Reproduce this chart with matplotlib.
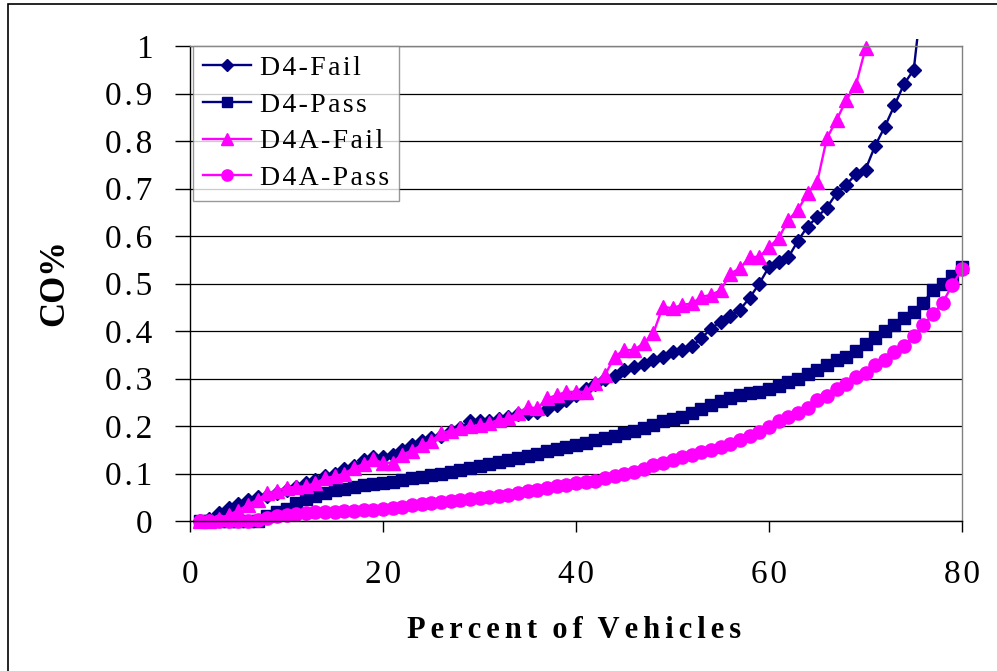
import numpy as np
import matplotlib
matplotlib.use("Agg")
import matplotlib.pyplot as plt
from matplotlib.patches import Rectangle

plt.rcParams['font.family'] = ['Liberation Serif', 'DejaVu Serif']

HS = '\u200a'  # hair space, mimics the wide letter spacing


def spaced(s, n=1):
    return (HS * n).join(s)


# %% data (x = percent of vehicles, y = CO%)
d4_fail = [0.0, 0.005, 0.016, 0.027, 0.035, 0.045, 0.05, 0.052, 0.06, 0.065,
           0.072, 0.08, 0.086, 0.095, 0.10, 0.11, 0.115, 0.128, 0.135, 0.135,
           0.14, 0.15, 0.16, 0.168, 0.175, 0.18, 0.19, 0.195, 0.21, 0.21,
           0.21, 0.215, 0.22, 0.225, 0.228, 0.23, 0.235, 0.245, 0.255, 0.265,
           0.278, 0.288, 0.30, 0.305, 0.318, 0.325, 0.33, 0.34, 0.346, 0.355,
           0.36, 0.368, 0.385, 0.405, 0.42, 0.432, 0.445, 0.47, 0.50, 0.535,
           0.545, 0.555, 0.59, 0.62, 0.64, 0.66, 0.69, 0.708, 0.73, 0.74,
           0.79, 0.83, 0.875, 0.92, 0.95, 1.13]

d4_pass = [0, 0, 0, 0, 0, 0, 0, 0.01, 0.018, 0.025,
           0.038, 0.047, 0.053, 0.06, 0.065, 0.068, 0.072, 0.075, 0.078, 0.08,
           0.083, 0.087, 0.09, 0.092, 0.096, 0.1, 0.104, 0.108, 0.112, 0.116,
           0.12, 0.124, 0.128, 0.132, 0.137, 0.142, 0.147, 0.151, 0.156, 0.16,
           0.165, 0.17, 0.175, 0.18, 0.185, 0.19, 0.195, 0.203, 0.21, 0.215,
           0.22, 0.227, 0.235, 0.245, 0.252, 0.26, 0.265, 0.27, 0.272, 0.278,
           0.285, 0.292, 0.30, 0.31, 0.318, 0.328, 0.338, 0.346, 0.358, 0.372,
           0.385, 0.40, 0.413, 0.428, 0.44, 0.46, 0.487, 0.50, 0.515, 0.535]

d4a_fail = [0, 0, 0.005, 0.013, 0.022, 0.034, 0.045, 0.058, 0.064, 0.07,
            0.072, 0.073, 0.08, 0.09, 0.094, 0.10, 0.112, 0.12, 0.13, 0.122,
            0.123, 0.14, 0.148, 0.16, 0.168, 0.185, 0.19, 0.195, 0.199, 0.202,
            0.206, 0.213, 0.216, 0.228, 0.24, 0.237, 0.258, 0.265, 0.272, 0.272,
            0.272, 0.29, 0.307, 0.346, 0.36, 0.36, 0.374, 0.395, 0.451, 0.448,
            0.455, 0.458, 0.472, 0.476, 0.486, 0.521, 0.532, 0.556, 0.556, 0.577,
            0.595, 0.634, 0.655, 0.69, 0.714, 0.806, 0.844, 0.886, 0.918, 0.995]

d4a_pass = [0, 0, 0, 0, 0, 0, 0.003, 0.006, 0.01, 0.012,
            0.014, 0.016, 0.018, 0.02, 0.02, 0.022, 0.022, 0.023, 0.024, 0.025,
            0.028, 0.03, 0.033, 0.036, 0.038, 0.04, 0.042, 0.044, 0.046, 0.048,
            0.05, 0.052, 0.055, 0.06, 0.063, 0.066, 0.07, 0.073, 0.076, 0.079,
            0.082, 0.085, 0.09, 0.095, 0.10, 0.104, 0.11, 0.117, 0.123, 0.128,
            0.134, 0.14, 0.145, 0.15, 0.155, 0.162, 0.17, 0.18, 0.188, 0.197,
            0.21, 0.22, 0.228, 0.238, 0.255, 0.263, 0.278, 0.288, 0.303, 0.312,
            0.328, 0.34, 0.355, 0.368, 0.39, 0.413, 0.435, 0.46, 0.497, 0.53]

series = [
    ("D4-Fail", d4_fail, '#000080', 'D', 7.5),
    ("D4-Pass", d4_pass, '#000080', 's', 9),
    ("D4A-Fail", d4a_fail, '#FF00FF', '^', 10.5),
    ("D4A-Pass", d4a_pass, '#FF00FF', 'o', 9.5),
]

x_ticks = [0, 20, 40, 60, 80]
y_ticks = [0, 0.1, 0.2, 0.3, 0.4, 0.5, 0.6, 0.7, 0.8, 0.9, 1]
y_tick_labels = ['0', '0.1', '0.2', '0.3', '0.4', '0.5', '0.6', '0.7', '0.8', '0.9', '1']

# %% figure
W, H = 997, 671
fig = plt.figure(figsize=(W / 100, H / 100), dpi=100)
ax = fig.add_axes([190 / W, 1 - 521 / H, (962 - 190) / W, (521 - 46) / H])

# clip a little outside the plot area so edge markers are not cut in half
clip = Rectangle((-0.02, -0.03), 1.04, 1.045, transform=ax.transAxes,
                 facecolor='none', edgecolor='none')
ax.add_patch(clip)

for name, vals, col, mk, ms in series:
    xs = np.arange(1, len(vals) + 1)
    ln, = ax.plot(xs, vals, color=col, lw=1.7, marker=mk, ms=ms,
                  mec=col, mfc=col, label=spaced(name))
    ln.set_clip_path(clip)

ax.set_xlim(0, 80)
ax.set_ylim(0, 1)
ax.set_xticks(x_ticks)
ax.set_xticklabels([spaced(str(t)) for t in x_ticks])
ax.set_yticks(y_ticks)
ax.set_yticklabels([spaced(s) for s in y_tick_labels])
ax.tick_params(axis='x', direction='out', length=8, width=1, pad=20, labelsize=24)
ax.tick_params(axis='y', direction='out', length=11, width=1, pad=16, labelsize=24)

ax.grid(axis='y', color='black', lw=0.9)
ax.set_axisbelow(True)
ax.spines['left'].set_color('black')
ax.spines['bottom'].set_color('black')
ax.spines['top'].set_color('#808080')
ax.spines['right'].set_color('#808080')
for s in ax.spines.values():
    s.set_linewidth(1)

leg = ax.legend(loc='upper left', bbox_to_anchor=(193 / W, 1 - 46 / H),
                bbox_transform=fig.transFigure, fontsize=20, frameon=True,
                fancybox=False, edgecolor='#808080', handlelength=1.75,
                handletextpad=0.3, labelspacing=0.4, borderpad=0.35,
                borderaxespad=0, markerscale=0.85)
leg.get_frame().set_linewidth(1)

fig.text(574 / W, 1 - 630 / H, "  ".join(spaced(w, 2) for w in "Percent of Vehicles".split()),
         ha='center', va='center', fontsize=22, fontweight='bold')
fig.text(55 / W, 1 - 283 / H, "CO%", rotation=90, ha='center', va='center',
         fontsize=25, fontweight='bold')

# outer chart border (only left and top edges are inside the picture)
fig.add_artist(Rectangle((8 / W, -0.1), 1.2, 1.1 - 4 / H, transform=fig.transFigure,
                         fill=False, edgecolor='black', lw=1.2))

fig.savefig('out.png', dpi=100)
